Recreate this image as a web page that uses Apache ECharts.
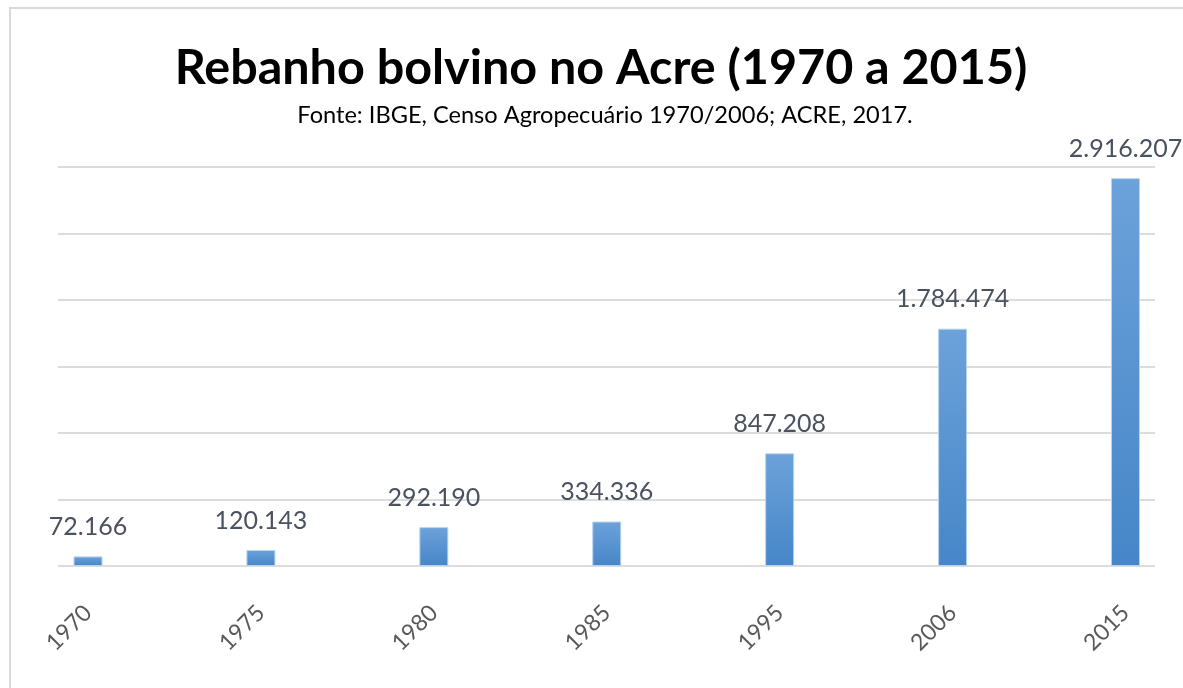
<!DOCTYPE html>
<html>
<head>
<meta charset="utf-8">
<title>Rebanho bolvino no Acre</title>
<script src="https://cdn.jsdelivr.net/npm/echarts@6/dist/echarts.min.js"></script>
<style>
  html, body { margin: 0; padding: 0; background: #fff; }
  #frame { position: absolute; left: 9px; top: 7px; width: 1300px; height: 800px;
           border-left: 2px solid #d9d9d9; border-top: 2px solid #d9d9d9; }
  #myChart { position: absolute; left: 0; top: 0; width: 1183px; height: 688px; }
</style>
</head>
<body>
<div id="frame"></div>
<div id="myChart"></div>
<script>
var years = ['1970', '1975', '1980', '1985', '1995', '2006', '2015'];
var cattle = [72166, 120143, 292190, 334336, 847208, 1784474, 2916207];
var yMax = 3000000;
var yStep = 500000;

window.onload = function () {
    'use strict';

    // pt-BR thousands separator: 2.916.207
    function fmt(v) {
        return String(v).replace(/\B(?=(\d{3})+(?!\d))/g, '.');
    }

    var option = {
        animation: false,
        title: [
            {
                text: 'Rebanho bolvino no Acre (1970 a 2015)',
                left: 596,
                top: 39,
                textAlign: 'center',
                textStyle: {
                    fontFamily: 'Lato',
                    fontWeight: 'bold',
                    fontSize: 48.5,
                    color: '#000'
                }
            },
            {
                text: 'Fonte: IBGE, Censo Agropecuário 1970/2006; ACRE, 2017.',
                left: 600,
                top: 98,
                textAlign: 'center',
                textStyle: {
                    fontFamily: 'Lato',
                    fontWeight: 'normal',
                    fontSize: 23.6,
                    color: '#000'
                }
            }
        ],
        grid: [
            // gridlines only, wider than the bars
            { left: 58, right: 28, top: 167, bottom: 122 },
            // bars
            { left: 88, right: 57.5, top: 167, bottom: 122 }
        ],
        xAxis: [
            {
                gridIndex: 0,
                type: 'category',
                data: years,
                show: false
            },
            {
                gridIndex: 1,
                type: 'category',
                data: years,
                boundaryGap: false,
                axisLine: { show: false },
                axisTick: { show: false },
                axisLabel: {
                    rotate: 45,
                    margin: 43,
                    fontFamily: 'Lato',
                    fontSize: 23,
                    color: '#595959'
                }
            }
        ],
        yAxis: [
            {
                gridIndex: 0,
                type: 'value',
                min: 0,
                max: yMax,
                interval: yStep,
                axisLine: { show: false },
                axisTick: { show: false },
                axisLabel: { show: false },
                splitLine: { lineStyle: { color: '#dcdcdc', width: 2 } }
            },
            {
                gridIndex: 1,
                type: 'value',
                min: 0,
                max: yMax,
                interval: yStep,
                axisLine: { show: false },
                axisTick: { show: false },
                axisLabel: { show: false },
                splitLine: { show: false }
            }
        ],
        series: [
            {
                type: 'bar',
                xAxisIndex: 1,
                yAxisIndex: 1,
                data: cattle,
                barWidth: 29,
                itemStyle: {
                    color: new echarts.graphic.LinearGradient(0, 0, 0, 1, [
                        { offset: 0, color: '#6ca2da' },
                        { offset: 1, color: '#4686c8' }
                    ]),
                    borderColor: '#b9d3ee',
                    borderWidth: 1
                },
                label: {
                    show: true,
                    position: 'top',
                    distance: 17,
                    formatter: function (p) { return fmt(p.value); },
                    fontFamily: 'Lato',
                    fontSize: 25,
                    color: '#4a5260'
                }
            }
        ]
    };

    var myChart = echarts.init(document.getElementById('myChart'));
    myChart.setOption(option);
};
</script>
</body>
</html>
